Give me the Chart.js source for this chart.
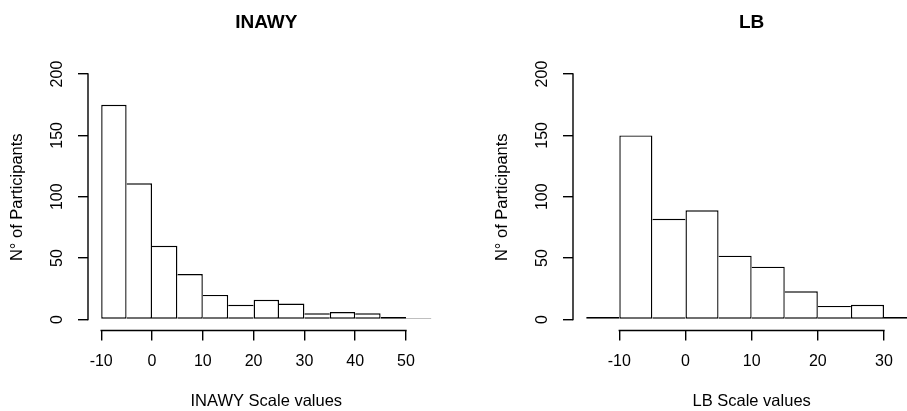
<!DOCTYPE html>
<html>
<head>
<meta charset="utf-8">
<script src="https://cdn.jsdelivr.net/npm/chart.js@4"></script>
<style>
  html, body { margin: 0; padding: 0; background: #fff; overflow: hidden; }
  #wrap { position: relative; width: 907px; height: 411px; overflow: hidden; }
  canvas { position: absolute; top: 0; }
  #left { left: 0; }
  #right { left: 453px; }
</style>
</head>
<body>
<div id="wrap">
  <canvas id="left" width="453" height="411"></canvas>
  <canvas id="right" width="480" height="411"></canvas>
</div>
<script>
// histogram bins (edges) and counts
const inawyBreaks = [-10, -5, 0, 5, 10, 15, 20, 25, 30, 35, 40, 45, 50, 55];
const inawyCounts = [175, 111, 60, 37, 20, 12, 16, 13, 5, 6, 5, 2, 1];
const inawyTicks = [-10, 0, 10, 20, 30, 40, 50];

const lbBreaks = [-15, -10, -5, 0, 5, 10, 15, 20, 25, 30, 35];
const lbCounts = [2, 150, 82, 89, 52, 43, 23, 11, 12, 2];
const lbTicks = [-10, 0, 10, 20, 30];

const countTicks = [0, 50, 100, 150, 200];

const ink = '#000';
const lw = 1.4;
const family = '"Liberation Sans", Arial, sans-serif';

// R style axes: a line from first to last tick only
const rAxes = {
  id: 'rAxes',
  afterDraw(chart) {
    const {ctx, chartArea, scales: {x, y}} = chart;
    const xs = x.ticks, ys = y.ticks;
    ctx.save();
    ctx.strokeStyle = ink;
    ctx.lineWidth = lw;
    ctx.lineCap = 'square';
    ctx.beginPath();
    ctx.moveTo(chartArea.left, y.getPixelForValue(ys[0].value));
    ctx.lineTo(chartArea.left, y.getPixelForValue(ys[ys.length - 1].value));
    ctx.moveTo(x.getPixelForValue(xs[0].value), chartArea.bottom);
    ctx.lineTo(x.getPixelForValue(xs[xs.length - 1].value), chartArea.bottom);
    ctx.stroke();
    ctx.restore();
  }
};

// a shared edge between two bins is drawn once, by the taller bin
function edges(counts) {
  return ctx => {
    const i = ctx.dataIndex, n = counts.length;
    return {
      top: lw,
      bottom: lw,
      left: (i === 0 || counts[i] > counts[i - 1]) ? lw : 0,
      right: (i === n - 1 || counts[i] >= counts[i + 1]) ? lw : 0
    };
  };
}

function hist(id, title, xTitle, breaks, counts, ticks, xMin, xMax, padLeft, padRight) {
  const points = counts.map((c, i) => ({x: (breaks[i] + breaks[i + 1]) / 2, y: c}));
  return new Chart(document.getElementById(id), {
    type: 'bar',
    data: {
      datasets: [{
        data: points,
        backgroundColor: '#fff',
        borderColor: ink,
        borderWidth: edges(counts),
        borderSkipped: false,
        inflateAmount: 0,
        barPercentage: 1,
        categoryPercentage: 1
      }]
    },
    options: {
      responsive: false,
      animation: false,
      layout: {padding: {left: padLeft, right: padRight, top: 0, bottom: 0}},
      plugins: {
        legend: {display: false},
        tooltip: {enabled: false},
        title: {
          display: true,
          text: title,
          fullSize: false,
          color: ink,
          font: {family, size: 19, weight: 'bold'},
          padding: {top: 11, bottom: 30.2}
        }
      },
      scales: {
        x: {
          type: 'linear',
          min: xMin,
          max: xMax,
          offset: false,
          afterBuildTicks: s => { s.ticks = ticks.map(v => ({value: v})); },
          afterFit: s => { s.height = 80.5; },
          border: {display: false},
          grid: {offset: false, drawOnChartArea: false, tickLength: 10, color: ink, lineWidth: lw},
          ticks: {
            padding: 11.6, color: ink, font: {family, size: 16},
            autoSkip: false, maxRotation: 0, callback: v => String(v)
          },
          title: {
            display: true, text: xTitle, color: ink,
            font: {family, size: 16.5}, padding: {top: 0, bottom: 0}
          }
        },
        y: {
          type: 'linear',
          min: -9,
          max: 208.2,
          afterBuildTicks: s => { s.ticks = countTicks.map(v => ({value: v})); },
          afterFit: s => { s.width = 88; },
          border: {display: false},
          grid: {drawOnChartArea: false, tickLength: 10, color: ink, lineWidth: lw},
          ticks: {
            minRotation: 90, maxRotation: 90, crossAlign: 'center', padding: 7,
            color: ink, font: {family, size: 16}, autoSkip: false,
            callback: v => String(v)
          },
          title: {
            display: true, text: 'N° of Participants', color: ink,
            font: {family, size: 16.5}, padding: {top: 8, bottom: 0}
          }
        }
      }
    },
    plugins: [rAxes]
  });
}

hist('left', 'INAWY', 'INAWY Scale values', inawyBreaks, inawyCounts, inawyTicks, -12.6, 57.6, 0, 8.4);
hist('right', 'LB', 'LB Scale values', lbBreaks, lbCounts, lbTicks, -17, 37, 32, 2.7);
</script>
</body>
</html>
